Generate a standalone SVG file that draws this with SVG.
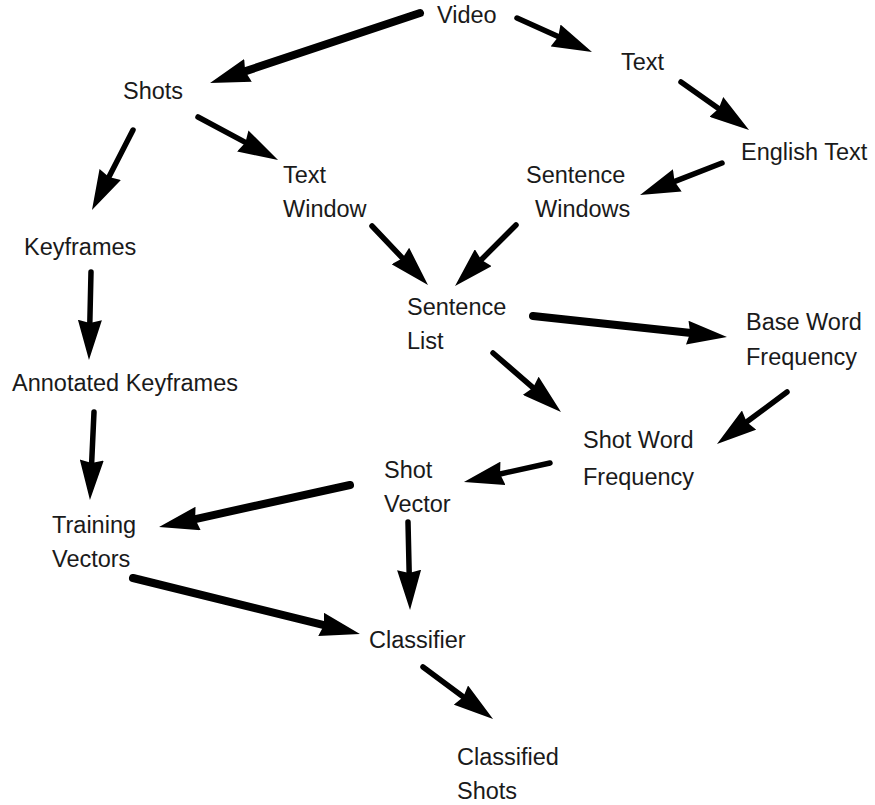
<svg xmlns="http://www.w3.org/2000/svg" width="875" height="805" viewBox="0 0 875 805">
<defs>
<style>
text{font-family:"Liberation Sans",Arial,sans-serif;font-size:23.5px;fill:#1a1a1a}
.e{stroke:#000;stroke-width:5.5;stroke-linecap:round;fill:none;marker-end:url(#ah)}
.t{stroke-width:8}
</style>
<marker id="ah" markerUnits="userSpaceOnUse" viewBox="0 0 40 24" refX="4" refY="12" markerWidth="40" markerHeight="24" orient="auto">
<path d="M0,0 L40,12 L0,24 L3,12 Z" fill="#000"/>
</marker>
</defs>
<rect width="875" height="805" fill="#fff"/>
<g id="connectors">
<line class="e t" x1="420" y1="13" x2="244.2" y2="71.6"/>
<line class="e" x1="517" y1="18" x2="559.2" y2="37.1"/>
<line class="e" x1="681" y1="82" x2="719.6" y2="109.2"/>
<line class="e" x1="133" y1="130" x2="108.4" y2="178"/>
<line class="e" x1="198" y1="117" x2="246.3" y2="142.9"/>
<line class="e" x1="722" y1="163" x2="673.6" y2="181.9"/>
<line class="e" x1="372" y1="226" x2="403.2" y2="258.9"/>
<line class="e" x1="516" y1="225" x2="480.5" y2="260.5"/>
<line class="e" x1="91" y1="272" x2="89.8" y2="324"/>
<line class="e" x1="94" y1="412" x2="91.6" y2="464"/>
<line class="e t" x1="533" y1="316" x2="691.2" y2="333.1"/>
<line class="e" x1="493" y1="353" x2="533.8" y2="388.4"/>
<line class="e" x1="787" y1="392" x2="745.9" y2="422.5"/>
<line class="e" x1="550" y1="463" x2="499.1" y2="474.2"/>
<line class="e t" x1="350" y1="485" x2="194.2" y2="519.3"/>
<line class="e" x1="408" y1="522" x2="409.2" y2="574"/>
<line class="e t" x1="133" y1="578" x2="325" y2="625.4"/>
<line class="e" x1="423" y1="667" x2="464.1" y2="697.5"/>
</g>
<g id="video"><text x="437" y="23">Video</text></g>
<g id="text"><text x="621" y="70">Text</text></g>
<g id="shots"><text x="123" y="99">Shots</text></g>
<g id="english-text"><text x="741" y="160">English Text</text></g>
<g id="text-window"><text x="283" y="183">Text</text><text x="283" y="217">Window</text></g>
<g id="sentence-windows"><text x="526" y="183">Sentence</text><text x="535" y="217">Windows</text></g>
<g id="keyframes"><text x="24" y="255">Keyframes</text></g>
<g id="sentence-list"><text x="407" y="315">Sentence</text><text x="407" y="349">List</text></g>
<g id="base-word-frequency"><text x="746" y="330">Base Word</text><text x="746" y="365">Frequency</text></g>
<g id="annotated-keyframes"><text x="12" y="391">Annotated Keyframes</text></g>
<g id="shot-word-frequency"><text x="583" y="448">Shot Word</text><text x="583" y="485">Frequency</text></g>
<g id="shot-vector"><text x="384" y="478">Shot</text><text x="384" y="512">Vector</text></g>
<g id="training-vectors"><text x="52" y="533">Training</text><text x="52" y="567">Vectors</text></g>
<g id="classifier"><text x="369" y="648">Classifier</text></g>
<g id="classified-shots"><text x="457" y="765">Classified</text><text x="457" y="799">Shots</text></g>
</svg>
